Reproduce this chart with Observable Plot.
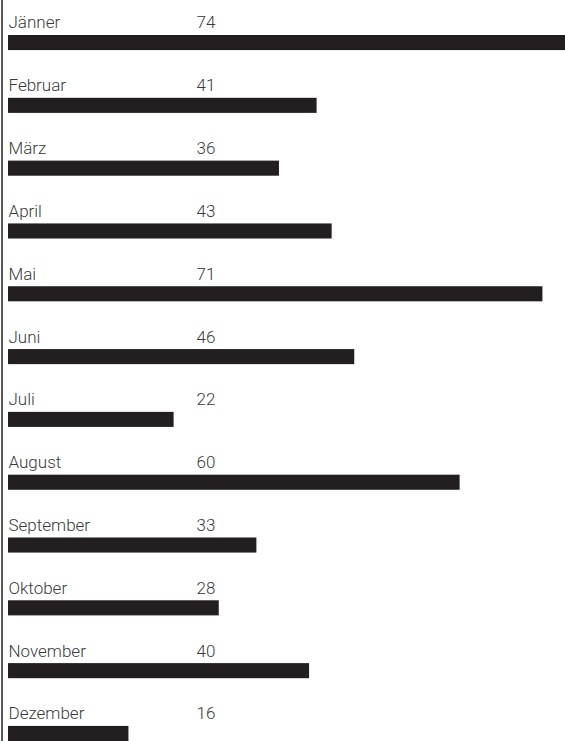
<!DOCTYPE html>
<html>
<head>
<meta charset="utf-8">
<script src="https://cdn.jsdelivr.net/npm/d3@7"></script>
<script src="https://cdn.jsdelivr.net/npm/@observablehq/plot@0.6"></script>
<style>
  html, body { margin: 0; padding: 0; background: #fff; }
  #chart svg { display: block; overflow: visible; }
</style>
</head>
<body>
<div id="chart"></div>
<script>
const months = ["Jänner","Februar","März","April","Mai","Juni","Juli","August","September","Oktober","November","Dezember"];
const values = [74, 41, 36, 43, 71, 46, 22, 60, 33, 28, 40, 16];

const data = months.map((m, i) => ({month: m, value: values[i]}));

const fontFamily = "Roboto, sans-serif";
const chart = Plot.plot({
  width: 565,
  height: 741,
  marginLeft: 8,
  marginRight: 0,
  marginTop: 35,
  marginBottom: 0,
  style: {fontFamily, fontSize: "17px", color: "#3a3a3a", background: "#fff"},
  x: {domain: [0, 74], axis: null},
  y: {domain: months, axis: null, paddingInner: 0.76, paddingOuter: 0, align: 0, round: false},
  marks: [
    Plot.ruleX([0], {dx: -6.5, insetTop: -35, stroke: "#231f20", strokeWidth: 1.5}),
    Plot.barX(data, {y: "month", x: "value", fill: "#231f20"}),
    Plot.text(data, {y: "month", x: 0, text: "month", textAnchor: "start", dy: -20, fill: "#3a3a3a", fontSize: 17, fontWeight: 300}),
    Plot.text(data, {y: "month", x: 0, text: d => String(d.value), textAnchor: "start", dx: 188, dy: -20, fill: "#3a3a3a", fontSize: 17, fontWeight: 300})
  ]
});
document.getElementById("chart").append(chart);
</script>
</body>
</html>
